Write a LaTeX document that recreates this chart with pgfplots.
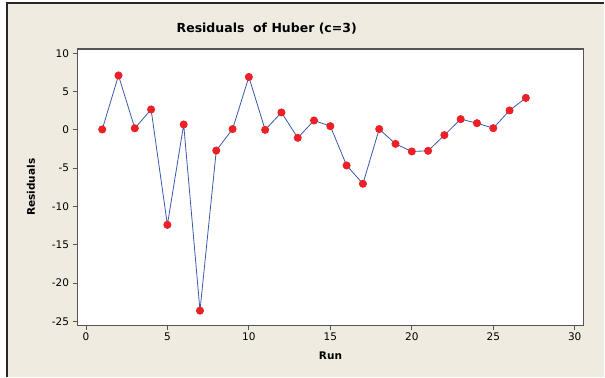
\documentclass[border=0pt]{standalone}
\usepackage{fontspec}
\setmainfont{DejaVu Sans}
\usepackage{pgfplots}
\pgfplotsset{compat=1.18}
\definecolor{bgbeige}{HTML}{EFEBE1}
\definecolor{lineblue}{HTML}{3A5BAA}
\definecolor{dotred}{HTML}{EE2027}
\definecolor{frame}{HTML}{555555}
\begin{document}
\begin{tikzpicture}[x=1pt,y=1pt]
\fill[white] (0,0) rectangle (605,377);
\fill[bgbeige] (7,0) rectangle (605,374);
\draw[line width=1.3pt,black!85] (7,0) -- (7,374) -- (605,374);
\node[font=\bfseries\fontsize{12.5}{15}\selectfont] at (267,348) {Residuals\ \ of Huber (c=3)};
\begin{axis}[
  at={(77.7pt,51.3pt)}, anchor=south west,
  scale only axis, width=506.3pt, height=276.7pt,
  xmin=-0.51, xmax=30.53, ymin=-25.52, ymax=10.56,
  axis background/.style={fill=white},
  axis line style={line width=1.2pt,frame},
  xtick={0,5,10,15,20,25,30},
  ytick={-25,-20,-15,-10,-5,0,5,10},
  yticklabels={-25,-20,-15,-10,-5,0,5,10},
  xticklabels={0,5,10,15,20,25,30},
  tick align=outside, major tick length=5pt,
  tick style={line width=0.8pt,frame},
  xtick pos=bottom, ytick pos=left,
  tick label style={font=\fontsize{10.5}{12}\selectfont},
  xticklabel style={yshift=1pt},
  xlabel={\bfseries Run}, ylabel={\bfseries Residuals},
  xlabel style={font=\fontsize{10.5}{12}\selectfont, at={(axis description cs:0.5,-0.1095)}, anchor=center},
  ylabel style={font=\fontsize{10.5}{12}\selectfont, at={(axis description cs:-0.092,0.5)}, anchor=center, rotate=0},
  clip=false,
]
\addplot[lineblue, line width=0.8pt, mark=*, mark size=3.6pt, mark options={draw=dotred, fill=dotred}] coordinates {
(1,0.05) (2,7.1) (3,0.2) (4,2.66) (5,-12.4) (6,0.7) (7,-23.6) (8,-2.7) (9,0.1)
(10,6.9) (11,0.0) (12,2.27) (13,-1.04) (14,1.22) (15,0.48) (16,-4.65) (17,-7.04)
(18,0.1) (19,-1.83) (20,-2.82) (21,-2.74) (22,-0.69) (23,1.4) (24,0.87) (25,0.22)
(26,2.53) (27,4.17)
};
\end{axis}
\end{tikzpicture}
\end{document}
